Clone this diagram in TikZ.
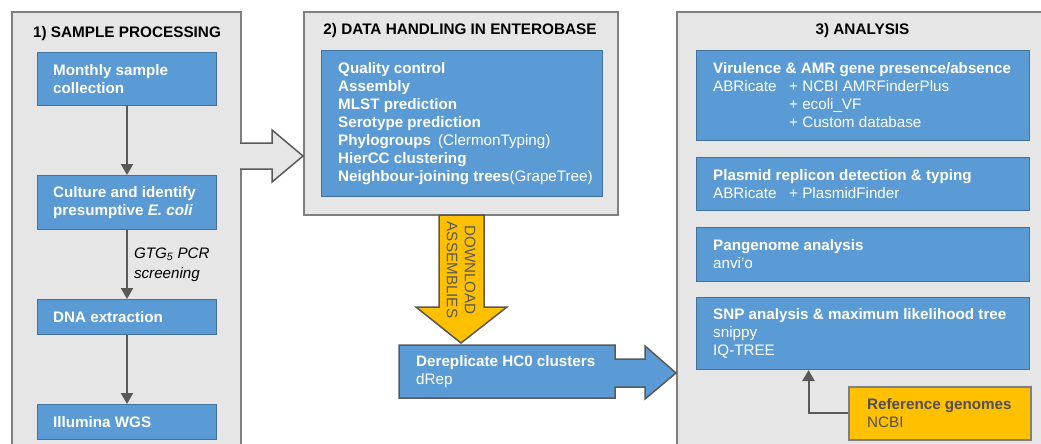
\documentclass[tikz,border=0pt]{standalone}
\usepackage{fontspec}
\setmainfont{Liberation Sans}
\usetikzlibrary{arrows.meta}

\definecolor{panelgray}{HTML}{E6E6E6}
\definecolor{panelline}{HTML}{7F7F7F}
\definecolor{boxblue}{HTML}{5B9BD5}
\definecolor{boxline}{HTML}{41719C}
\definecolor{gold}{HTML}{FFC000}
\definecolor{arrowgray}{HTML}{595959}
\definecolor{goldtext}{HTML}{505050}

\begin{document}
\begin{tikzpicture}[x=1pt,y=-1pt,
  font=\fontsize{15.2}{18}\selectfont,
  panel/.style={fill=panelgray,draw=panelline,line width=1.5pt},
  paneltitle/.style={anchor=base,font=\fontsize{15.3}{18}\selectfont\bfseries,text=black,inner sep=0pt},
  bluebox/.style={fill=boxblue,draw=boxline,line width=1pt,anchor=north west,inner sep=0pt},
  goldbox/.style={fill=gold,draw=panelline,line width=1.5pt,anchor=north west,inner sep=0pt},
  boxtext/.style={anchor=west,align=left,text=white,inner sep=0pt},
  conn/.style={draw=arrowgray,line width=2pt,-{Triangle[width=12pt,length=11pt]}},
  blockarrow/.style={draw=arrowgray,line width=1.5pt,line join=miter}
]
\useasboundingbox (0,0) rectangle (1041,444);
\fill[white] (0,0) rectangle (1041,444);
\clip (0,0) rectangle (1041,444);

% ---------- panels ----------
\draw[panel] (12,12) rectangle (241,470);
\draw[panel] (304,12) rectangle (618,215);
\draw[panel] (677,12) rectangle (1070,470);

\node[paneltitle] (t1) at (127,38) {1) SAMPLE PROCESSING};
\node[paneltitle] (t2) at (460,35) {2) DATA HANDLING IN ENTEROBASE};
\node[paneltitle] (t3) at (862.5,35) {3) ANALYSIS};

% ---------- block arrows ----------
\path[fill=panelgray,blockarrow] (240.2,143) -- (272,143) -- (272,130) -- (303,156)
  -- (272,182) -- (272,169) -- (240.2,169);
\path[fill=gold,blockarrow] (439,215) -- (484,215) -- (484,307) -- (507,307)
  -- (461,343) -- (416,307) -- (439,307) -- cycle;
\node[rotate=-90,align=center,text=arrowgray,inner sep=0pt] (dl) at (461,270)
  {DOWNLOAD\\ASSEMBLIES};
\path[fill=boxblue,blockarrow] (399,345) -- (615,345) -- (615,359) -- (645,359)
  -- (645,346) -- (676,373) -- (645,399) -- (645,387) -- (615,387) -- (615,398)
  -- (399,398) -- cycle;
\node[minimum width=216pt,minimum height=53pt,anchor=north west,inner sep=0pt] (derep) at (399,345) {};
\node[boxtext] (derep-t) at ([xshift=17pt]derep.west)
  {\textbf{Dereplicate HC0 clusters}\\dRep};

% ---------- 1) sample processing ----------
\node[bluebox,minimum width=179pt,minimum height=53pt] (samp) at (37,52) {};
\node[boxtext] (samp-t) at ([xshift=16pt]samp.west)
  {\textbf{Monthly sample}\\\textbf{collection}};
\node[bluebox,minimum width=179pt,minimum height=54pt] (cult) at (37,175) {};
\node[boxtext] (cult-t) at ([xshift=16pt]cult.west)
  {\textbf{Culture and identify}\\\textbf{presumptive \textit{E. coli}}};
\node[bluebox,minimum width=179pt,minimum height=35pt] (dna) at (37,299) {};
\node[boxtext] (dna-t) at ([xshift=16pt]dna.west) {\textbf{DNA extraction}};
\node[bluebox,minimum width=179pt,minimum height=35pt] (wgs) at (37,404) {};
\node[boxtext] (wgs-t) at ([xshift=16pt]wgs.west) {\textbf{Illumina WGS}};

\draw[conn] (samp) -- (cult);
\draw[conn] (cult) -- node[anchor=west,xshift=6pt,align=left,inner sep=0pt,
  font=\fontsize{15.2}{20}\selectfont\itshape] (gtg) {GTG\textsubscript{5} PCR\\screening} (dna);
\draw[conn] (dna) -- (wgs);

% ---------- 2) data handling ----------
\node[bluebox,minimum width=281pt,minimum height=146pt] (ebase) at (321,50) {};
\node[boxtext] (ebase-t) at ([xshift=17pt]ebase.west)
  {\textbf{Quality control}\\
   \textbf{Assembly}\\
   \textbf{MLST prediction}\\
   \textbf{Serotype prediction}\\
   \textbf{Phylogroups}\hspace{7pt}(ClermonTyping)\\
   \textbf{HierCC clustering}\\
   \textbf{Neighbour-joining trees}(GrapeTree)};

% ---------- 3) analysis ----------
\node[bluebox,minimum width=333pt,minimum height=90pt] (vir) at (696,50) {};
\node[boxtext] (vir-t) at ([xshift=17pt]vir.west)
  {\textbf{Virulence \& AMR gene presence/absence}\\
   \makebox[76pt][l]{ABRicate}+ NCBI AMRFinderPlus\\
   \makebox[76pt][l]{}+ ecoli\_VF\\
   \makebox[76pt][l]{}+ Custom database};
\node[bluebox,minimum width=333pt,minimum height=53pt] (plas) at (696,157) {};
\node[boxtext] (plas-t) at ([xshift=17pt]plas.west)
  {\textbf{Plasmid replicon detection \& typing}\\
   \makebox[76pt][l]{ABRicate}+ PlasmidFinder};
\node[bluebox,minimum width=333pt,minimum height=54pt] (pan) at (696,227) {};
\node[boxtext] (pan-t) at ([xshift=17pt]pan.west)
  {\textbf{Pangenome analysis}\\anvi’o};
\node[bluebox,minimum width=333pt,minimum height=72pt] (snp) at (696,297) {};
\node[boxtext] (snp-t) at ([xshift=17pt]snp.west)
  {\textbf{SNP analysis \& maximum likelihood tree}\\snippy\\IQ-TREE};
\node[goldbox,minimum width=182pt,minimum height=53pt] (ref) at (848,386) {};
\node[boxtext,text=goldtext] (ref-t) at ([xshift=19pt]ref.west)
  {\textbf{Reference genomes}\\NCBI};

\draw[conn] (ref.west) -| ([xshift=-54.5pt]snp.south);
\end{tikzpicture}
\end{document}
